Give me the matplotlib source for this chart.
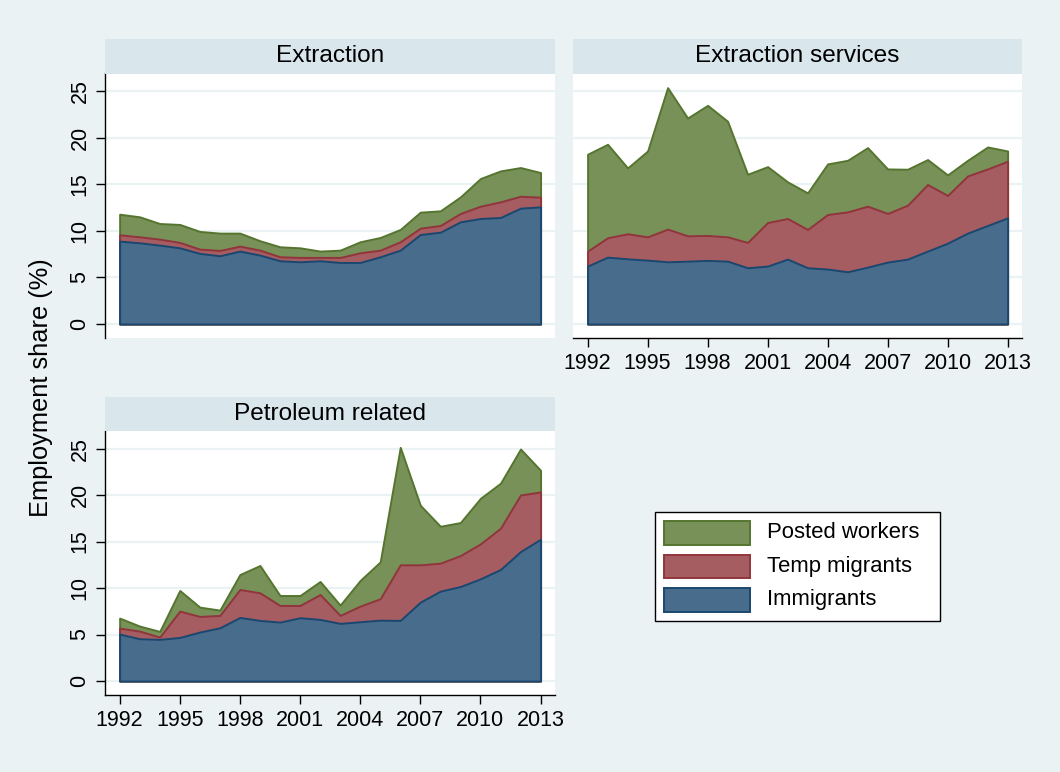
import matplotlib
matplotlib.use("Agg")
import matplotlib.pyplot as plt
import numpy as np
from matplotlib.patches import Rectangle

plt.rcParams['font.family'] = ['Liberation Sans', 'DejaVu Sans']

years = list(range(1992, 2014))
xticks = [1992, 1995, 1998, 2001, 2004, 2007, 2010, 2013]
yticks = [0, 5, 10, 15, 20, 25]

series_names = ["Posted workers", "Temp migrants", "Immigrants"]

# Employment shares (%) by worker group, per industry
extraction_imm = [8.90, 8.72, 8.47, 8.18, 7.58, 7.33, 7.83, 7.40, 6.79, 6.68, 6.79,
                  6.61, 6.61, 7.22, 7.93, 9.61, 9.86, 10.97, 11.33, 11.44, 12.44, 12.58]
extraction_temp = [0.68, 0.64, 0.64, 0.58, 0.46, 0.57, 0.53, 0.53, 0.43, 0.47, 0.36,
                   0.54, 1.04, 0.71, 0.90, 0.68, 0.72, 0.90, 1.32, 1.68, 1.28, 1.04]
extraction_posted = [2.21, 2.15, 1.68, 1.93, 1.90, 1.86, 1.40, 1.01, 1.07, 1.03, 0.68,
                     0.78, 1.18, 1.36, 1.32, 1.72, 1.57, 1.78, 2.97, 3.32, 3.08, 2.64]

services_imm = [6.22, 7.18, 7.00, 6.86, 6.68, 6.75, 6.83, 6.75, 6.04, 6.22, 6.97,
                6.04, 5.90, 5.61, 6.11, 6.65, 6.97, 7.83, 8.68, 9.76, 10.58, 11.40]
services_temp = [1.61, 2.08, 2.69, 2.50, 3.51, 2.72, 2.68, 2.61, 2.72, 4.68, 4.36,
                 4.11, 5.86, 6.43, 6.54, 5.22, 5.79, 7.15, 5.12, 6.14, 6.07, 6.08]
services_posted = [10.40, 10.04, 7.07, 9.22, 15.19, 12.65, 13.97, 12.41, 7.32, 6.00, 3.93,
                   3.93, 5.43, 5.54, 6.29, 4.78, 3.86, 2.68, 2.21, 1.68, 2.36, 1.10]

petroleum_imm = [5.05, 4.55, 4.48, 4.69, 5.27, 5.73, 6.84, 6.52, 6.34, 6.81, 6.63,
                 6.20, 6.38, 6.55, 6.52, 8.49, 9.67, 10.17, 11.00, 12.00, 13.93, 15.26]
petroleum_temp = [0.64, 0.82, 0.25, 2.83, 1.68, 1.33, 3.01, 2.97, 1.79, 1.32, 2.68,
                  0.86, 1.68, 2.30, 5.98, 4.01, 3.01, 3.33, 3.76, 4.44, 6.09, 5.08]
petroleum_posted = [1.08, 0.54, 0.61, 2.22, 1.00, 0.57, 1.61, 2.94, 1.07, 1.07, 1.40,
                    1.11, 2.76, 3.97, 12.64, 6.41, 3.97, 3.55, 4.90, 4.84, 4.94, 2.33]

panels = [
    ("Extraction", extraction_imm, extraction_temp, extraction_posted),
    ("Extraction services", services_imm, services_temp, services_posted),
    ("Petroleum related", petroleum_imm, petroleum_temp, petroleum_posted),
]

BG = "#EAF2F3"
STRIP = "#D9E6EB"
GRID = "#EAF2F3"
fills = {"imm": (72/255, 108/255, 140/255), "temp": (166/255, 93/255, 98/255),
         "posted": (119/255, 145/255, 89/255)}
edges = {"imm": "#1A476F", "temp": "#90353B", "posted": "#55752F"}

W, H = 1060, 772
fig = plt.figure(figsize=(W / 100, H / 100), dpi=100, facecolor=BG)

FS_TICK = 15.5
FS_TITLE = 17.6
FS_LEG = 15.9
FS_YLAB = 18.3

def px_rect(x0, y0, x1, y1):
    return [x0 / W, 1 - y1 / H, (x1 - x0) / W, (y1 - y0) / H]

# (plot left, plot right, strip top, strip bottom, plot bottom, y axis, x axis)
layout = [
    (105, 555, 39.5, 73.5, 337.5, True, False),
    (573, 1022, 39.5, 73.5, 337.5, False, True),
    (105, 555, 397, 431, 694.5, True, True),
]

for (title, imm, temp, posted), (x0, x1, s0, s1, y1, show_y, show_x) in zip(panels, layout):
    ax = fig.add_axes(px_rect(x0, s1, x1, y1))
    ax.set_facecolor("white")
    x = np.array(years)
    c1 = np.array(imm)
    c2 = c1 + np.array(temp)
    c3 = c2 + np.array(posted)
    ax.fill_between(x, 0, c3, facecolor=fills["posted"], edgecolor=edges["posted"], linewidth=1.4, zorder=2)
    ax.fill_between(x, 0, c2, facecolor=fills["temp"], edgecolor=edges["temp"], linewidth=1.4, zorder=3)
    ax.fill_between(x, 0, c1, facecolor=fills["imm"], edgecolor=edges["imm"], linewidth=1.4, zorder=4)

    ax.set_xlim(1991.27, 2013.72)
    ax.set_ylim(-1.45, 26.9)
    for yv in yticks:
        ax.axhline(yv, color=GRID, linewidth=1.6, zorder=1)

    for sp in ax.spines.values():
        sp.set_visible(False)
    ax.set_yticks(yticks)
    ax.set_xticks(xticks)
    if show_y:
        ax.spines["left"].set_visible(True)
        ax.spines["left"].set_linewidth(1.0)
        ax.tick_params(axis="y", length=6.5, width=1.0, pad=4, labelsize=FS_TICK)
        for lab in ax.get_yticklabels():
            lab.set_rotation(90)
            lab.set_va("center")
    else:
        ax.tick_params(axis="y", left=False, labelleft=False)
    if show_x:
        ax.spines["bottom"].set_visible(True)
        ax.spines["bottom"].set_linewidth(1.0)
        ax.tick_params(axis="x", length=6.5, width=1.0, pad=5, labelsize=FS_TICK)
    else:
        ax.tick_params(axis="x", bottom=False, labelbottom=False)

    # panel title strip
    fig.patches.append(Rectangle((x0 / W, 1 - s1 / H), (x1 - x0) / W, (s1 - s0) / H,
                                 transform=fig.transFigure, facecolor=STRIP,
                                 edgecolor="none", zorder=0))
    fig.text((x0 + x1) / 2 / W, 1 - (s0 + s1) / 2 / H, title, ha="center", va="center",
             fontsize=FS_TITLE)

fig.text(41 / W, 1 - 387.5 / H, "Employment share (%)", rotation=90, ha="center",
         va="center", fontsize=FS_YLAB)

# legend box with swatches
fig.patches.append(Rectangle((655 / W, 1 - 621 / H), 285 / W, 109 / H,
                             transform=fig.transFigure, facecolor="white",
                             edgecolor="black", linewidth=1.0, zorder=1))
swatch_tops = [521, 554.5, 588]
for key, name, top in zip(("posted", "temp", "imm"), series_names, swatch_tops):
    fig.patches.append(Rectangle((664 / W, 1 - (top + 23.5) / H), 86 / W, 23.5 / H,
                                 transform=fig.transFigure, facecolor=fills[key],
                                 edgecolor=edges[key], linewidth=1.4, zorder=2))
    fig.text(767 / W, 1 - (top + 11.75) / H, name, ha="left", va="center",
             fontsize=FS_LEG, zorder=3)

fig.savefig("out.png", dpi=100, facecolor=BG)
